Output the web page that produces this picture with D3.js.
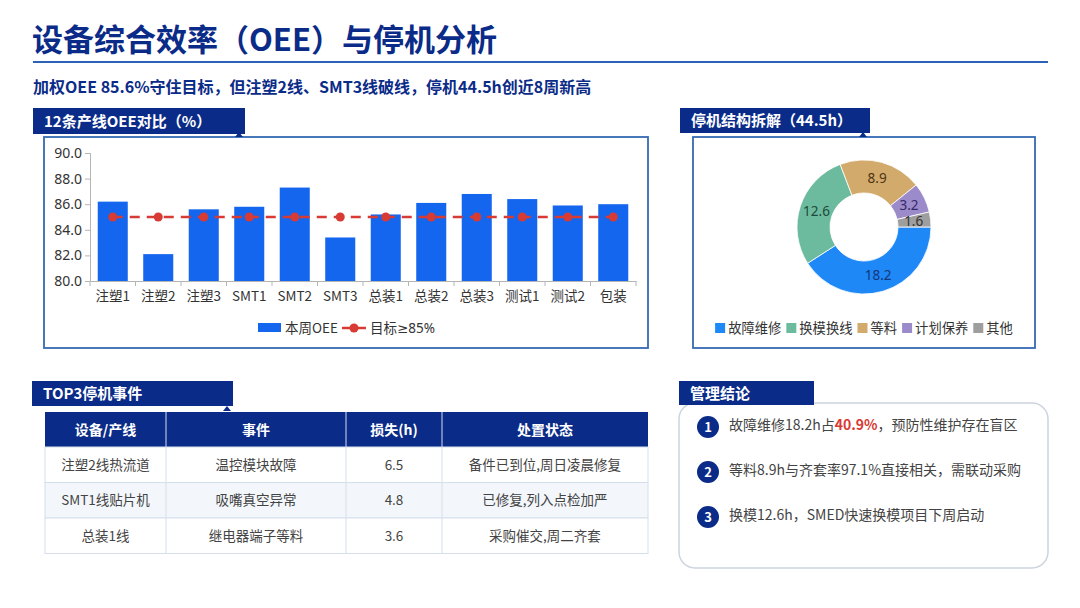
<!DOCTYPE html>
<html>
<head>
<meta charset="utf-8">
<script src="https://cdn.jsdelivr.net/npm/d3@7"></script>
<style>
body { margin: 0; background: #fff; }
svg text { font-family: "Noto Sans CJK SC", "Noto Sans", sans-serif; }
</style>
</head>
<body>
<div id="page"></div>
<script>
// data
var lineNames = ["注塑1", "注塑2", "注塑3", "SMT1", "SMT2", "SMT3", "总装1", "总装2", "总装3", "测试1", "测试2", "包装"];
var oeeValues = [86.2, 82.1, 85.6, 85.8, 87.3, 83.4, 85.2, 86.1, 86.8, 86.4, 85.9, 86.0];
var targetValues = [85, 85, 85, 85, 85, 85, 85, 85, 85, 85, 85, 85];
var yTicks = [80, 82, 84, 86, 88, 90];

var downCats = ["故障维修", "换模换线", "等料", "计划保养", "其他"];
var downHours = [18.2, 12.6, 8.9, 3.2, 1.6];

var tableHeaders = ["设备/产线", "事件", "损失(h)", "处置状态"];
var eventLines = ["注塑2线热流道", "SMT1线贴片机", "总装1线"];
var eventNames = ["温控模块故障", "吸嘴真空异常", "继电器端子等料"];
var eventLoss = [6.5, 4.8, 3.6];
var eventStatus = ["备件已到位,周日凌晨修复", "已修复,列入点检加严", "采购催交,周二齐套"];

var conclusions = [
    ["故障维修18.2h占", "40.9%", "，预防性维护存在盲区"],
    ["等料8.9h与齐套率97.1%直接相关，需联动采购"],
    ["换模12.6h，SMED快速换模项目下周启动"]
];

// colours
var navy = "#0b2b88";
var barColor = "#1466ee";
var targetColor = "#d83a34";
var pieColors = ["#1e88f7", "#6dbb9f", "#d2aa6c", "#9b8bcb", "#9e9e9e"];
var pieLabelColors = ["#16357a", "#1d4a3a", "#4d3513", "#372968", "#333333"];

var svg = d3.select("#page").append("svg")
    .attr("width", 1080)
    .attr("height", 608);

svg.append("rect").attr("width", 1080).attr("height", 608).attr("fill", "#fff");

// title + rule
svg.append("text")
    .attr("x", 32).attr("y", 51)
    .attr("font-size", "31px").attr("font-weight", "bold")
    .attr("fill", navy)
    .text("设备综合效率（OEE）与停机分析");

svg.append("line")
    .attr("x1", 33).attr("x2", 1048)
    .attr("y1", 62).attr("y2", 62)
    .attr("stroke", "#2a62b8").attr("stroke-width", 2);

svg.append("text")
    .attr("x", 33).attr("y", 93)
    .attr("font-size", "16px").attr("font-weight", "bold")
    .attr("fill", navy)
    .text("加权OEE 85.6%守住目标，但注塑2线、SMT3线破线，停机44.5h创近8周新高");

// navy tab header with little pointer
function header(x, y, w, h, label, tipX, tipY) {
    svg.append("rect")
        .attr("x", x).attr("y", y).attr("width", w).attr("height", h)
        .attr("fill", navy);
    svg.append("text")
        .attr("x", x + 11).attr("y", y + h / 2 + 5.5)
        .attr("font-size", "15px").attr("font-weight", "bold")
        .attr("fill", "#fff")
        .text(label);
    if (tipX) {
        svg.append("path")
            .attr("d", "M" + (tipX - 4) + "," + tipY + "L" + tipX + "," + (tipY - 5) + "L" + (tipX + 4) + "," + tipY + "Z")
            .attr("fill", navy);
    }
}

// ---------- 1. OEE bar chart ----------
svg.append("rect")
    .attr("x", 44).attr("y", 137).attr("width", 604).attr("height", 211)
    .attr("fill", "none").attr("stroke", "#3569b3").attr("stroke-width", 1.8);
header(33, 108, 212, 26, "12条产线OEE对比（%）", 239, 137);

var xScale = d3.scaleBand()
    .domain(lineNames)
    .range([90, 636])
    .paddingInner(0.34)
    .paddingOuter(0.17);

var yScale = d3.scaleLinear()
    .domain([80, 90])
    .range([281, 153]);

var yAxis = svg.append("g")
    .attr("transform", "translate(90,0)")
    .call(d3.axisLeft(yScale).tickValues(yTicks).tickFormat(d3.format(".1f")).tickSize(5));
yAxis.selectAll("path, line").attr("stroke", "#b5b5b5");
yAxis.selectAll("text").attr("font-size", "14px").attr("fill", "#333")
    .style("font-family", "'Noto Sans', sans-serif");

var xAxis = svg.append("g")
    .attr("transform", "translate(0,281)")
    .call(d3.axisBottom(xScale).tickSize(0).tickPadding(10));
xAxis.select("path").attr("stroke", "#b5b5b5");
xAxis.selectAll("text").attr("font-size", "13.5px").attr("fill", "#333");

// tick marks between the categories
var step = xScale.step();
svg.append("g").selectAll("line")
    .data(lineNames.concat(["end"]))
    .enter().append("line")
    .attr("x1", function(d, i) { return i < lineNames.length ? xScale(d) - step * 0.17 : 636; })
    .attr("x2", function(d, i) { return i < lineNames.length ? xScale(d) - step * 0.17 : 636; })
    .attr("y1", 281).attr("y2", 286)
    .attr("stroke", "#b5b5b5");

svg.append("g").selectAll("rect")
    .data(oeeValues)
    .enter().append("rect")
    .attr("x", function(d, i) { return xScale(lineNames[i]); })
    .attr("y", function(d) { return yScale(d); })
    .attr("width", xScale.bandwidth())
    .attr("height", function(d) { return 281 - yScale(d); })
    .attr("fill", barColor);

var targetLine = d3.line()
    .x(function(d, i) { return xScale(lineNames[i]) + xScale.bandwidth() / 2; })
    .y(function(d) { return yScale(d); });

svg.append("path")
    .datum(targetValues)
    .attr("d", targetLine)
    .attr("fill", "none")
    .attr("stroke", targetColor).attr("stroke-width", 2.5)
    .attr("stroke-dasharray", "10,7");

svg.append("g").selectAll("circle")
    .data(targetValues)
    .enter().append("circle")
    .attr("cx", function(d, i) { return xScale(lineNames[i]) + xScale.bandwidth() / 2; })
    .attr("cy", function(d) { return yScale(d); })
    .attr("r", 4.5)
    .attr("fill", targetColor);

// legend
svg.append("rect").attr("x", 258).attr("y", 323).attr("width", 23).attr("height", 9).attr("fill", barColor);
svg.append("text").attr("x", 285).attr("y", 333).attr("font-size", "13.5px").attr("fill", "#333").text("本周OEE");
svg.append("line").attr("x1", 342).attr("x2", 366).attr("y1", 328).attr("y2", 328)
    .attr("stroke", targetColor).attr("stroke-width", 2.5);
svg.append("circle").attr("cx", 354).attr("cy", 328).attr("r", 4.5).attr("fill", targetColor);
var tgt = svg.append("text").attr("x", 370).attr("y", 333).attr("font-size", "13.5px").attr("fill", "#333");
tgt.append("tspan").text("目标");
tgt.append("tspan").style("font-family", "'Noto Sans', 'DejaVu Sans', sans-serif").text("≥85%");

// ---------- 2. downtime donut ----------
svg.append("rect")
    .attr("x", 693).attr("y", 137).attr("width", 342).attr("height", 211)
    .attr("fill", "none").attr("stroke", "#3569b3").attr("stroke-width", 1.8);
header(680, 108, 190, 25, "停机结构拆解（44.5h）", 863, 137);

var pie = d3.pie()
    .sort(null)
    .startAngle(Math.PI / 2)
    .endAngle(Math.PI / 2 + 2 * Math.PI);

var arc = d3.arc().innerRadius(34).outerRadius(67);
var labelArc = d3.arc().innerRadius(50).outerRadius(50);

var donut = svg.append("g").attr("transform", "translate(864,227)");
var slices = pie(downHours);

donut.selectAll("path")
    .data(slices)
    .enter().append("path")
    .attr("d", arc)
    .attr("fill", function(d, i) { return pieColors[i]; })
    .attr("stroke", "#fff").attr("stroke-width", 0.8);

donut.selectAll("text")
    .data(slices)
    .enter().append("text")
    .attr("transform", function(d) { return "translate(" + labelArc.centroid(d) + ")"; })
    .attr("text-anchor", "middle")
    .attr("dy", "0.35em")
    .attr("font-size", "13.5px")
    .attr("fill", function(d, i) { return pieLabelColors[i]; })
    .style("font-family", "'Noto Sans', sans-serif")
    .text(function(d) { return d3.format(".1f")(d.data); });

// donut legend, laid out by measured text widths and centred
var legend = svg.append("g");
var lx = 0;
downCats.forEach(function(c, i) {
    var g = legend.append("g").attr("transform", "translate(" + lx + ",0)");
    g.append("rect").attr("x", 0).attr("y", -5).attr("width", 10).attr("height", 10).attr("fill", pieColors[i]);
    var t = g.append("text").attr("x", 13).attr("y", 5).attr("font-size", "13.3px").attr("fill", "#333").text(c);
    lx += 13 + t.node().getComputedTextLength() + 5;
});
legend.attr("transform", "translate(" + (864 - (lx - 5) / 2) + ",328)");

// ---------- 3. TOP3 table ----------
header(32, 381, 201, 25, "TOP3停机事件", 227, 411);

var colEdges = [45, 166, 346, 442, 648];
var rowTop = 412, headH = 35, rowH = 35.5;
var rows = eventLines.map(function(d, i) {
    return [d, eventNames[i], d3.format(".1f")(eventLoss[i]), eventStatus[i]];
});

svg.append("rect")
    .attr("x", colEdges[0]).attr("y", rowTop)
    .attr("width", colEdges[4] - colEdges[0]).attr("height", headH)
    .attr("fill", navy);

svg.append("g").selectAll("text")
    .data(tableHeaders)
    .enter().append("text")
    .attr("x", function(d, i) { return (colEdges[i] + colEdges[i + 1]) / 2; })
    .attr("y", rowTop + headH / 2 + 5)
    .attr("text-anchor", "middle")
    .attr("font-size", "14px").attr("font-weight", "bold")
    .attr("fill", "#fff")
    .text(function(d) { return d; });

var body = svg.append("g");
rows.forEach(function(r, ri) {
    var y0 = rowTop + headH + ri * rowH;
    body.append("rect")
        .attr("x", colEdges[0]).attr("y", y0)
        .attr("width", colEdges[4] - colEdges[0]).attr("height", rowH)
        .attr("fill", ri % 2 === 1 ? "#f3f7fc" : "#fff")
        .attr("stroke", "#d5dfec").attr("stroke-width", 1);
    r.forEach(function(cell, ci) {
        body.append("text")
            .attr("x", (colEdges[ci] + colEdges[ci + 1]) / 2)
            .attr("y", y0 + rowH / 2 + 5)
            .attr("text-anchor", "middle")
            .attr("font-size", "13.5px")
            .attr("fill", "#444")
            .text(cell);
    });
});
// column separators
svg.append("g").selectAll("line")
    .data(colEdges.slice(1, 4))
    .enter().append("line")
    .attr("x1", function(d) { return d; }).attr("x2", function(d) { return d; })
    .attr("y1", rowTop).attr("y2", rowTop + headH + rows.length * rowH)
    .attr("stroke", "#d5dfec").attr("stroke-width", 1);

// ---------- 4. conclusions ----------
svg.append("rect")
    .attr("x", 679).attr("y", 403).attr("width", 369).attr("height", 165)
    .attr("rx", 16).attr("ry", 16)
    .attr("fill", "#fff").attr("stroke", "#cdd4de").attr("stroke-width", 1.5);
header(679, 381, 135, 24, "管理结论");

conclusions.forEach(function(parts, i) {
    var cy = 427 + i * 45;
    svg.append("circle").attr("cx", 708).attr("cy", cy).attr("r", 11).attr("fill", navy);
    svg.append("text")
        .attr("x", 708).attr("y", cy + 5)
        .attr("text-anchor", "middle")
        .attr("font-size", "13px").attr("font-weight", "bold")
        .attr("fill", "#fff")
        .text(i + 1);
    var t = svg.append("text")
        .attr("x", 729).attr("y", cy + 3)
        .attr("font-size", "14px")
        .attr("fill", "#444");
    parts.forEach(function(p, j) {
        var s = t.append("tspan").text(p);
        if (j === 1) s.attr("fill", targetColor).attr("font-weight", "bold");
    });
});
</script>
</body>
</html>
